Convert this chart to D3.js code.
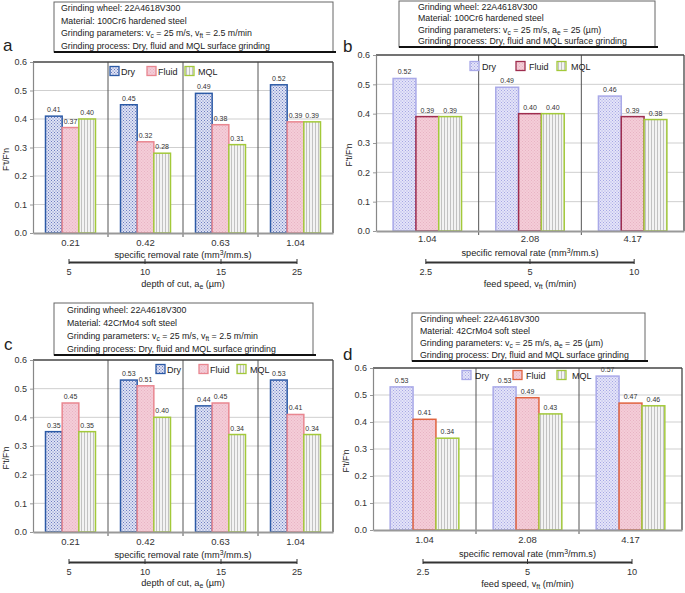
<!DOCTYPE html>
<html><head><meta charset="utf-8">
<script src="https://cdn.jsdelivr.net/npm/d3@7"></script>
<style>body{margin:0;background:#fff}svg{font-family:"Liberation Sans",Arial,sans-serif}</style>
</head><body><svg id="chart" width="685" height="593"></svg>
<script>
// ---------- DATA ----------
const seriesNames = ["Dry", "Fluid", "MQL"];
const yTickValues = [0, 0.1, 0.2, 0.3, 0.4, 0.5, 0.6];
const removalRatesAC = ["0.21", "0.42", "0.63", "1.04"];
const depthOfCutTicks = ["5", "10", "15", "25"];
const removalRatesBD = ["1.04", "2.08", "4.17"];
const feedSpeedTicks = ["2.5", "5", "10"];

const aDry = [0.41, 0.45, 0.49, 0.52];
const aFluid = [0.37, 0.32, 0.38, 0.39];
const aMQL = [0.40, 0.28, 0.31, 0.39];

const bDry = [0.52, 0.49, 0.46];
const bFluid = [0.39, 0.40, 0.39];
const bMQL = [0.39, 0.40, 0.38];

const cDry = [0.35, 0.53, 0.44, 0.53];
const cFluid = [0.45, 0.51, 0.45, 0.41];
const cMQL = [0.35, 0.40, 0.34, 0.34];

const dDry = [0.53, 0.53, 0.57];
const dFluid = [0.41, 0.49, 0.47];
const dMQL = [0.34, 0.43, 0.46];

const wheelText = "Grinding wheel: 22A4618V300";
const materialHard = "Material: 100Cr6 hardened steel";
const materialSoft = "Material: 42CrMo4 soft steel";
const paramsFeed = [["Grinding parameters: v", ""], ["c", "sub"], [" = 25 m/s, v", ""], ["ft", "sub"], [" = 2.5 m/min", ""]];
const paramsDepth = [["Grinding parameters: v", ""], ["c", "sub"], [" = 25 m/s, a", ""], ["e", "sub"], [" = 25 (\u00b5m)", ""]];
const processText = "Grinding process: Dry, fluid and MQL surface grinding";
const depthTitle = [["depth of cut, a", ""], ["e", "sub"], [" (\u00b5m)", ""]];
const feedTitle = [["feed speed, v", ""], ["ft", "sub"], [" (m/min)", ""]];
const removalTitle = [["specific removal rate (mm", ""], ["3", "sup"], ["/mm.s)", ""]];
const yTitle = "F't/F'n";

// ---------- SETUP ----------
const svg = d3.select("#chart");
const defs = svg.append("defs");

function dotPattern(id, bg, dot) {
  const p = defs.append("pattern").attr("id", id).attr("patternUnits", "userSpaceOnUse")
    .attr("width", 3).attr("height", 3);
  p.append("rect").attr("width", 3).attr("height", 3).attr("fill", bg);
  p.append("rect").attr("x", 0).attr("y", 0).attr("width", 1).attr("height", 1).attr("fill", dot);
  p.append("rect").attr("x", 1.5).attr("y", 1.5).attr("width", 1).attr("height", 1).attr("fill", dot);
}
dotPattern("dryDark", "#dfe3f4", "#6d7cc0");
dotPattern("dryLight", "#e4e4f8", "#a6a6e4");
dotPattern("fluidPat", "#f4cdd8", "#e8b3c3");
(function () {
  const p = defs.append("pattern").attr("id", "mqlPat").attr("patternUnits", "userSpaceOnUse")
    .attr("width", 3).attr("height", 3);
  p.append("rect").attr("width", 3).attr("height", 3).attr("fill", "#f3f3f3");
  p.append("rect").attr("x", 0).attr("width", 1).attr("height", 3).attr("fill", "#c2c2c2");
})();

function richText(sel, segs) {
  segs.forEach(([t, k]) => {
    const ts = sel.append("tspan").text(t);
    if (k === "sub") ts.attr("baseline-shift", "-25%").attr("font-size", "0.75em");
    if (k === "sup") ts.attr("baseline-shift", "40%").attr("font-size", "0.75em");
  });
}

const panels = [
  { letter: "a", lx: 3, ly: 51, cats: removalRatesAC, sec: depthOfCutTicks, secTitle: depthTitle,
    series: [aDry, aFluid, aMQL], x0: 33, x1: 333, yTop: 62, yBot: 233,
    box: { x: 54, y: 2, w: 279, h: 50, indent: 7 }, lines: [wheelText, materialHard, paramsFeed, processText],
    fills: ["url(#dryDark)", "url(#fluidPat)", "url(#mqlPat)"], strokes: ["#2c5aa6", "#e98690", "#a3c93a"],
    legend: { y: 71, sq: [110, 147, 185], tx: [121, 158, 198] },
    offs: [13, 25, 29, 42, 54] },
  { letter: "b", lx: 343, ly: 52, cats: removalRatesBD, sec: feedSpeedTicks, secTitle: feedTitle,
    series: [bDry, bFluid, bMQL], x0: 376, x1: 684, yTop: 55, yBot: 231,
    box: { x: 399, y: 1, w: 256, h: 46, indent: 19 }, lines: [wheelText, materialHard, paramsDepth, processText],
    fills: ["url(#dryLight)", "url(#fluidPat)", "url(#mqlPat)"], strokes: ["#a9a9e8", "#9e2d4e", "#a3c93a"],
    legend: { y: 66, sq: [470, 516, 557], tx: [482, 529, 571] },
    offs: [11, 25, 31, 44, 56] },
  { letter: "c", lx: 4, ly: 350, cats: removalRatesAC, sec: depthOfCutTicks, secTitle: depthTitle,
    series: [cDry, cFluid, cMQL], x0: 33, x1: 333, yTop: 360, yBot: 532,
    box: { x: 54, y: 303, w: 259, h: 52, indent: 13 }, lines: [wheelText, materialSoft, paramsFeed, processText],
    fills: ["url(#dryDark)", "url(#fluidPat)", "url(#mqlPat)"], strokes: ["#2c5aa6", "#e98690", "#a3c93a"],
    legend: { y: 369, sq: [156, 199, 237], tx: [167, 210, 250] },
    offs: [13, 26, 30, 43, 54] },
  { letter: "d", lx: 343, ly: 360, cats: removalRatesBD, sec: feedSpeedTicks, secTitle: feedTitle,
    series: [dDry, dFluid, dMQL], x0: 373, x1: 682, yTop: 368, yBot: 530,
    box: { x: 412, y: 313, w: 233, h: 48, indent: 8 }, lines: [wheelText, materialSoft, paramsDepth, processText],
    fills: ["url(#dryLight)", "url(#fluidPat)", "url(#mqlPat)"], strokes: ["#a9a9e8", "#e0633f", "#a3c93a"],
    legend: { y: 375, sq: [462, 513, 557], tx: [475, 526, 572] },
    offs: [13, 27, 32, 45, 57] }
];

panels.forEach(P => {
  const g = svg.append("g");
  g.append("text").attr("x", P.lx).attr("y", P.ly).attr("font-size", 17).attr("fill", "#222").text(P.letter);

  const b = P.box;
  g.append("rect").attr("x", b.x).attr("y", b.y).attr("width", b.w).attr("height", b.h)
    .attr("fill", "#fff").attr("stroke", "#666").attr("stroke-width", 1);
  g.append("line").attr("x1", b.x).attr("x2", b.x + b.w + 3).attr("y1", b.y + b.h).attr("y2", b.y + b.h)
    .attr("stroke", "#111").attr("stroke-width", 2.2);
  const lh = b.h / 4;
  P.lines.forEach((ln, i) => {
    const t = g.append("text").attr("x", b.x + b.indent).attr("y", b.y + lh * i + lh * 0.74)
      .attr("font-size", 8.8).attr("fill", "#222");
    if (typeof ln === "string") t.text(ln); else richText(t, ln);
  });

  const y = d3.scaleLinear().domain([0, 0.6]).range([P.yBot, P.yTop]);
  const x = d3.scaleBand().domain(P.cats).range([P.x0, P.x1]).padding(0);
  const step = x.step();
  const xs = d3.scaleBand().domain(seriesNames).range([step / 6, step * 5 / 6]).padding(0);

  g.append("g").selectAll("line").data(yTickValues.filter(v => v > 0 && v < 0.6)).join("line")
    .attr("x1", P.x0).attr("x2", P.x1).attr("y1", d => y(d)).attr("y2", d => y(d))
    .attr("stroke", "#cfcfcf").attr("stroke-width", 1);

  seriesNames.forEach((s, si) => {
    const vals = P.series[si];
    g.append("g").selectAll("rect").data(vals).join("rect")
      .attr("x", (d, i) => x(P.cats[i]) + xs(s))
      .attr("y", d => y(d))
      .attr("width", xs.bandwidth())
      .attr("height", d => y(0) - y(d))
      .attr("fill", P.fills[si]).attr("stroke", P.strokes[si]).attr("stroke-width", 1.5);
    g.append("g").selectAll("text").data(vals).join("text")
      .attr("x", (d, i) => x(P.cats[i]) + xs(s) + xs.bandwidth() / 2)
      .attr("y", d => y(d) - 4)
      .attr("text-anchor", "middle").attr("font-size", 7).attr("fill", "#333")
      .text(d => d3.format(".2f")(d));
  });

  g.append("g").selectAll("line").data(P.cats.slice(1)).join("line")
    .attr("x1", d => x(d)).attr("x2", d => x(d)).attr("y1", P.yTop).attr("y2", P.yBot + 4)
    .attr("stroke", "#555").attr("stroke-width", 1);
  g.append("line").attr("x1", P.x0).attr("x2", P.x1).attr("y1", P.yTop).attr("y2", P.yTop)
    .attr("stroke", "#444").attr("stroke-width", 1.3);
  g.append("line").attr("x1", P.x1).attr("x2", P.x1).attr("y1", P.yTop).attr("y2", P.yBot)
    .attr("stroke", "#444").attr("stroke-width", 1.3);

  const ya = g.append("g").attr("transform", `translate(${P.x0},0)`)
    .call(d3.axisLeft(y).tickValues(yTickValues).tickFormat(d3.format(".1f")).tickSize(3).tickSizeOuter(0));
  ya.select(".domain").attr("stroke", "#888").attr("stroke-width", 1.2);
  ya.selectAll(".tick line").attr("stroke", "#999");
  ya.selectAll(".tick text").attr("font-size", 9).attr("fill", "#333").attr("font-family", "Liberation Sans, Arial, sans-serif");

  const xa = g.append("g").attr("transform", `translate(0,${P.yBot})`)
    .call(d3.axisBottom(x).tickSize(0).tickSizeOuter(0));
  xa.select(".domain").attr("stroke", "#999").attr("stroke-width", 2);
  xa.selectAll(".tick text").attr("font-size", 9.5).attr("fill", "#333").attr("dy", null)
    .attr("y", P.offs[0]).attr("font-family", "Liberation Sans, Arial, sans-serif");

  const cx = (P.x0 + P.x1) / 2;
  richText(g.append("text").attr("x", cx).attr("y", P.yBot + P.offs[1]).attr("text-anchor", "middle")
    .attr("font-size", 9.2).attr("fill", "#222"), removalTitle);

  const xsec = d3.scalePoint().domain(P.sec).range([x(P.cats[0]) + step / 2 - 2, x(P.cats[P.cats.length - 1]) + step / 2 + 1]);
  const sa = g.append("g").attr("transform", `translate(0,${P.yBot + P.offs[2]})`)
    .call(d3.axisBottom(xsec).tickSize(3).tickSizeOuter(0));
  sa.select(".domain").attr("stroke", "#333").attr("stroke-width", 1.8);
  sa.selectAll(".tick line").attr("y1", -3).attr("y2", 2).attr("stroke", "#333");
  sa.selectAll(".tick text").attr("font-size", 9.2).attr("fill", "#333").attr("dy", null)
    .attr("y", P.offs[3] - P.offs[2]).attr("font-family", "Liberation Sans, Arial, sans-serif");
  richText(g.append("text").attr("x", cx).attr("y", P.yBot + P.offs[4]).attr("text-anchor", "middle")
    .attr("font-size", 9.2).attr("fill", "#222"), P.secTitle);

  g.append("text").attr("transform", `translate(${P.x0 - 24},${(P.yTop + P.yBot) / 2 + 12}) rotate(-90)`)
    .attr("text-anchor", "middle").attr("font-size", 8.5).attr("fill", "#222").text(yTitle);

  seriesNames.forEach((s, si) => {
    g.append("rect").attr("x", P.legend.sq[si]).attr("y", P.legend.y - 4.5).attr("width", 9).attr("height", 9)
      .attr("fill", P.fills[si]).attr("stroke", P.strokes[si]).attr("stroke-width", 1.3);
    g.append("text").attr("x", P.legend.tx[si]).attr("y", P.legend.y + 3.5).attr("font-size", 9)
      .attr("fill", "#222").text(s);
  });
});
</script></body></html>
